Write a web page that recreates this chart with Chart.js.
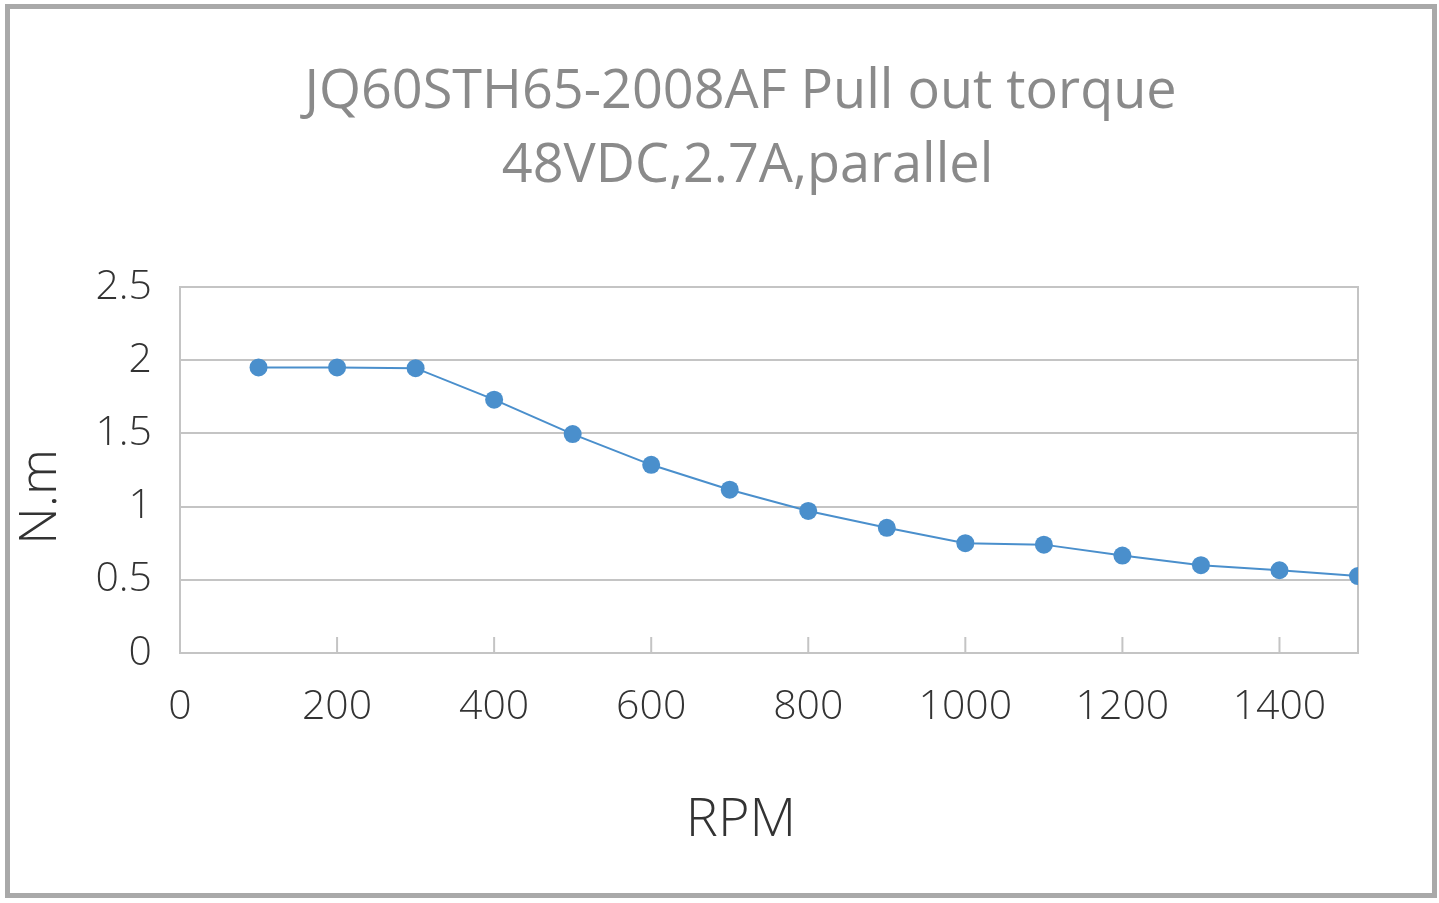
<!DOCTYPE html>
<html>
<head>
<meta charset="utf-8">
<script src="https://cdn.jsdelivr.net/npm/chart.js"></script>
<style>
  html, body { margin: 0; padding: 0; background: #fff; }
  #wrap { position: relative; width: 1439px; height: 903px; }
  #frame {
    position: absolute; left: 5px; top: 4px; width: 1422px; height: 884px;
    border: 5px solid #a9a9a9; pointer-events: none;
  }
  canvas { position: absolute; left: 0; top: 0; }
</style>
</head>
<body>
<div id="wrap">
  <canvas id="chart" width="1439" height="903"></canvas>
  <div id="frame"></div>
</div>
<script>
// leading spaces nudge the centred title to the right, as in the original
const titleLines = ['   JQ60STH65-2008AF Pull out torque', '    48VDC,2.7A,parallel'];
const speeds = [100, 200, 300, 400, 500, 600, 700, 800, 900, 1000, 1100, 1200, 1300, 1400, 1500];
const torque = [1.95, 1.95, 1.945, 1.73, 1.495, 1.285, 1.115, 0.97, 0.855, 0.75, 0.74, 0.665, 0.60, 0.565, 0.525];
const xTicks = [0, 200, 400, 600, 800, 1000, 1200, 1400];
const yTicks = [0, 0.5, 1, 1.5, 2, 2.5];

const gridColor = '#c4c4c4';
const lineColor = '#4a8fcc';

// short tick marks pointing up into the plot from the x axis
const innerTicks = {
  id: 'innerTicks',
  afterDatasetsDraw(chart) {
    const x = chart.scales.x;
    const ctx = chart.ctx;
    const bottom = chart.chartArea.bottom;
    ctx.save();
    ctx.strokeStyle = gridColor;
    ctx.lineWidth = 2;
    xTicks.forEach(v => {
      if (v === 0) return;
      const px = x.getPixelForValue(v);
      ctx.beginPath();
      ctx.moveTo(px, bottom);
      ctx.lineTo(px, bottom - 16);
      ctx.stroke();
    });
    ctx.restore();
  }
};

const tickFont = { family: 'Open Sans', size: 41, weight: 300 };

new Chart(document.getElementById('chart'), {
  type: 'line',
  data: {
    datasets: [{
      data: speeds.map((s, i) => ({ x: s, y: torque[i] })),
      borderColor: lineColor,
      backgroundColor: lineColor,
      borderWidth: 2,
      pointRadius: 9,
      pointHoverRadius: 9,
      pointBorderWidth: 0,
      tension: 0
    }]
  },
  options: {
    responsive: false,
    animation: false,
    layout: { padding: { left: 0, right: 0, top: 0, bottom: 56 } },
    plugins: {
      legend: { display: false },
      tooltip: { enabled: false },
      title: {
        display: true,
        text: titleLines,
        color: '#8a8a8a',
        font: { family: 'Open Sans', size: 54, weight: 400, lineHeight: 1.36 },
        padding: { top: 56, bottom: 84 }
      }
    },
    scales: {
      x: {
        type: 'linear',
        min: 0,
        max: 1500,
        afterBuildTicks: scale => { scale.ticks = xTicks.map(v => ({ value: v })); },
        afterFit: scale => { scale.height = 194; },
        grid: { display: false, drawTicks: false },
        border: { display: true, color: gridColor, width: 2 },
        ticks: { color: '#333', font: tickFont, padding: 30, maxRotation: 0, autoSkip: false,
                 callback: v => String(v) },
        title: {
          display: true, text: 'RPM    ', color: '#333',
          font: { family: 'Open Sans', size: 54, weight: 300, lineHeight: 0.97 },
          padding: { top: 0, bottom: 0 }
        }
      },
      y: {
        min: 0,
        max: 2.5,
        afterBuildTicks: scale => { scale.ticks = yTicks.map(v => ({ value: v })); },
        afterFit: scale => { scale.width = 180; },
        grid: { color: gridColor, lineWidth: 2, drawTicks: false },
        border: { display: true, color: gridColor, width: 2 },
        ticks: { color: '#333', font: tickFont, padding: 28, callback: v => String(v) },
        title: {
          display: true, text: 'N.m    ', color: '#333',
          font: { family: 'Open Sans', size: 52, weight: 300, lineHeight: 1.2 },
          padding: { top: 10, bottom: 0 }
        }
      },
      y2: {
        position: 'right',
        min: 0,
        max: 2.5,
        afterFit: scale => { scale.width = 81; },
        grid: { drawOnChartArea: false, drawTicks: false },
        border: { display: true, color: gridColor, width: 2 },
        ticks: { display: false }
      }
    }
  },
  plugins: [innerTicks]
});
</script>
</body>
</html>
